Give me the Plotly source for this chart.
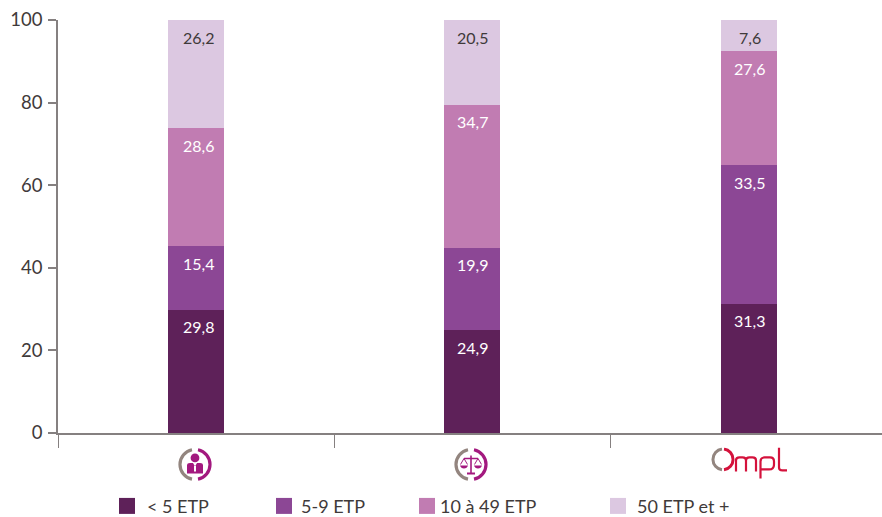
import base64
import plotly.graph_objects as go

categories = ["Groupe 1", "Groupe 2", "OMPL"]
series_names = ["< 5 ETP", "5-9 ETP", "10 à 49 ETP", "50 ETP et +"]
v_lt5 = [29.8, 24.9, 31.3]
v_5_9 = [15.4, 19.9, 33.5]
v_10_49 = [28.6, 34.7, 27.6]
v_50 = [26.2, 20.5, 7.6]
colors = ["#5e2159", "#8c4795", "#c17cb2", "#dcc8e1"]
label_colors = ["#ffffff", "#ffffff", "#ffffff", "#3f3a3a"]
y_ticks = [0, 20, 40, 60, 80, 100]
FONT = "Lato"
TEXT = "#3f3a3a"
AXIS = "#858080"
W, H = 882, 517
L, R, T, B = 58, 882, 20, 433.5
all_series = [v_lt5, v_5_9, v_10_49, v_50]


def px(x):
    return (x - L) / (R - L)


def py(y):
    return (B - y) / (B - T)


fig = go.Figure()
for name, vals, col in zip(series_names, all_series, colors):
    fig.add_trace(go.Bar(x=categories, y=vals, name=name, marker=dict(color=col, line=dict(width=0)),
                         width=0.2025, showlegend=False, hoverinfo="x+y+name"))

annotations = []
label_xshift = [2, 0, 1]
for i, cat in enumerate(categories):
    cum = 0
    for vals, lc in zip(all_series, label_colors):
        cum = round(cum + vals[i], 1)
        annotations.append(dict(x=cat, y=cum, xref="x", yref="y", xshift=label_xshift[i], yshift=-17, showarrow=False,
                                text=f"{vals[i]:.1f}".replace(".", ","),
                                font=dict(family=FONT, size=16, color=lc)))

shapes = []
swatch_x = [119, 276, 419, 610]
text_x = [145, 299, 438, 635]
LEG_Y = 506.5
for sx, tx, col, name in zip(swatch_x, text_x, colors, series_names):
    shapes.append(dict(type="rect", xref="paper", yref="paper", x0=px(sx), x1=px(sx + 16),
                       y0=py(LEG_Y + 8), y1=py(LEG_Y - 8), fillcolor=col, line=dict(width=0)))
    annotations.append(dict(x=px(tx), y=py(LEG_Y), xref="paper", yref="paper", xanchor="left", yanchor="middle",
                            showarrow=False, text=name, font=dict(family=FONT, size=18, color=TEXT)))

GRAY = "#93857f"
MAG = "#a3197f"
RED = "#d4123c"


def ring(c):
    return (f'<path d="M14 2.3A15 15 0 0 0 14 31.7" fill="none" stroke="{GRAY}" stroke-width="3.2"/>'
            f'<path d="M20 2.3A15 15 0 0 1 20 31.7" fill="none" stroke="{c}" stroke-width="3.2"/>')


logo1 = (ring(MAG) + f'<circle cx="17" cy="10.5" r="4.4" fill="{MAG}"/>'
         f'<path d="M9 18Q9 15.5 12 15.5H15L17 19L19 15.5H22Q25 15.5 25 18V26H9Z" fill="{MAG}"/>'
         f'<path d="M16 18.5H18V24H16Z" fill="#fff"/>')
logo2 = (ring(MAG) + f'<path d="M16.2 8H17.8V25H21V27H13V25H16.2Z" fill="{MAG}"/>'
         f'<path d="M10 11H24" stroke="{MAG}" stroke-width="1.6"/>'
         f'<path d="M6 18A4.2 4.2 0 0 0 14 18Z M20 18A4.2 4.2 0 0 0 28 18Z" fill="{MAG}"/>'
         f'<path d="M6.5 17L10 11L13.5 17 M20.5 17L24 11L27.5 17" fill="none" stroke="{MAG}" stroke-width="1"/>')
logo3 = (f'<path d="M11 1.6A10.5 10.5 0 0 0 11 22.4" fill="none" stroke="{GRAY}" stroke-width="3"/>'
         f'<path d="M13 1.6A10.5 10.5 0 0 1 13 22.4" fill="none" stroke="{RED}" stroke-width="3"/>'
         f'<path d="M25 24V13Q25 10 28.5 10H31.5Q35 10 35 13V24M35 13Q35 10 38.5 10H41.5Q45 10 45 13V24" fill="none" stroke="{RED}" stroke-width="2.2"/>'
         f'<path d="M49.5 31V14Q49.5 10 53.5 10H59Q63 10 63 14V17Q63 22 58 22H50" fill="none" stroke="{RED}" stroke-width="2.2"/>'
         f'<path d="M68 0V20Q68 23 71.5 23H76" fill="none" stroke="{RED}" stroke-width="2.2"/>')


def uri(body, w, h):
    svg = f'<svg xmlns="http://www.w3.org/2000/svg" width="{w}" height="{h}" viewBox="0 0 {w} {h}">{body}</svg>'
    return "data:image/svg+xml;base64," + base64.b64encode(svg.encode()).decode()


images = []
for body, x0, y0, w, h in [(logo1, 178, 448, 34, 34), (logo2, 454, 448, 34, 34), (logo3, 711, 448, 78, 34)]:
    images.append(dict(source=uri(body, w, h), xref="paper", yref="paper", x=px(x0), y=py(y0),
                       sizex=w / (R - L), sizey=h / (B - T), sizing="stretch", xanchor="left", yanchor="top", layer="above"))

fig.update_layout(
    barmode="stack", width=W, height=H, autosize=False,
    margin=dict(l=L, r=W - R, t=T, b=H - B, pad=0),
    paper_bgcolor="#ffffff", plot_bgcolor="#ffffff",
    annotations=annotations, shapes=shapes, images=images,
    font=dict(family=FONT, color=TEXT),
    xaxis=dict(type="category", categoryorder="array", categoryarray=categories,
               range=[-0.5, (R - L) / 276.3 - 0.5], tickson="boundaries", ticks="outside", ticklen=13, tickwidth=1,
               tickcolor=AXIS, showticklabels=False, showgrid=False, zeroline=False,
               showline=True, linecolor=AXIS, linewidth=1.5),
    yaxis=dict(range=[0, 100], tickvals=y_ticks, ticks="outside", ticklen=8, tickwidth=1.5, tickcolor=AXIS,
               tickfont=dict(family=FONT, size=18.5, color=TEXT), ticklabelstandoff=2, showgrid=False, zeroline=False,
               showline=True, linecolor=AXIS, linewidth=1.5),
)
fig.write_html("out.html", config={"displayModeBar": False},
               post_script="document.body.style.margin='0';document.body.style.overflow='hidden';")
